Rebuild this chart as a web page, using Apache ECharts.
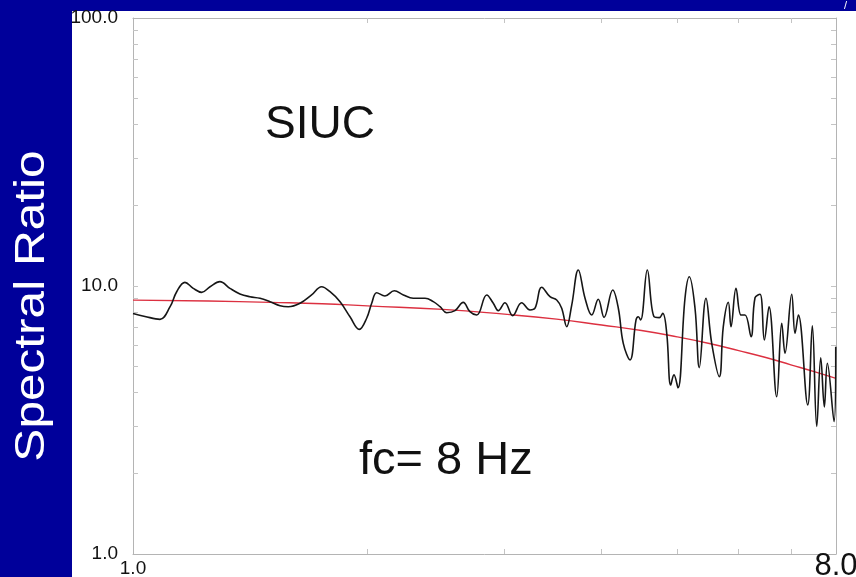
<!DOCTYPE html>
<html>
<head>
<meta charset="utf-8">
<script src="https://cdn.jsdelivr.net/npm/echarts@6/dist/echarts.min.js"></script>
<style>
  html, body { margin: 0; padding: 0; width: 856px; height: 577px; overflow: hidden; background: #00009a; }
  #panel { position: absolute; left: 72px; top: 11px; width: 784px; height: 566px; background: #ffffff; }
  #chart { position: absolute; left: 0; top: 0; width: 856px; height: 577px; }
</style>
</head>
<body>
<div id="panel"></div>
<div id="chart"></div>
<script>
// Observed spectral ratio (black curve)
const freq = [1.000,1.036,1.083,1.116,1.138,1.166,1.195,1.225,1.256,1.293,1.332,1.372,1.413,1.456,1.500,1.545,1.583,1.639,1.696,1.747,1.791,1.845,1.900,1.953,1.996,2.026,2.056,2.107,2.166,2.225,2.291,2.372,2.431,2.480,2.529,2.592,2.656,2.709,2.764,2.847,2.903,2.946,3.005,3.074,3.157,3.236,3.284,3.350,3.433,3.502,3.554,3.607,3.661,3.733,3.808,3.884,3.960,4.028,4.133,4.202,4.264,4.350,4.428,4.458,4.489,4.578,4.670,4.744,4.792,4.849,4.906,4.954,5.013,5.118,5.184,5.272,5.339,5.446,5.539,5.665,5.732,5.818,5.864,5.952,6.041,6.113,6.222,6.296,6.390,6.472,6.562,6.713,6.814,6.880,7.018,7.087,7.157,7.358,7.459,7.557,7.647,7.729,7.798,7.954,7.994];
const ratio = [7.90,7.70,7.51,8.37,9.52,10.32,9.80,9.47,9.94,10.38,9.80,9.34,9.12,9.00,8.74,8.44,8.37,8.62,9.26,9.94,9.52,8.74,7.68,6.89,7.58,8.62,9.44,9.18,9.60,9.26,9.00,9.00,8.74,8.37,7.95,8.09,8.69,8.02,7.79,9.26,8.62,8.09,8.66,7.75,8.66,8.14,8.26,9.89,9.12,8.87,8.26,7.05,8.49,11.47,9.00,7.79,8.92,7.64,9.66,8.26,6.11,5.30,7.47,7.68,7.47,11.47,7.68,7.62,7.91,6.66,4.27,4.66,4.17,9.00,10.83,8.26,4.96,9.00,6.11,4.59,7.05,8.69,7.05,9.80,7.79,7.79,6.47,9.04,9.31,6.29,8.37,3.86,7.26,5.61,9.31,6.66,7.79,3.60,7.11,2.99,5.40,3.54,5.15,3.12,5.94];

// Model fit (red curve)
const fitFreq = [1.0,1.25,1.5,1.75,2.0,2.5,3.0,3.5,4.0,4.5,5.0,5.5,6.0,6.5,7.0,7.5,8.0];
const fitRatio = [8.86,8.79,8.69,8.59,8.43,8.18,7.85,7.52,7.15,6.82,6.46,6.10,5.74,5.41,5.08,4.79,4.52];

// Axis ticks and labels
const xLabelValues = [1, 8];
const xMinorTicks = [2, 3, 4, 5, 6, 7];
const yLabelValues = [1, 10, 100];
const yMinorTicks = [2,3,4,5,6,7,8,9,10,20,30,40,50,60,70,80,90];

const FONT = 'Liberation Sans, Arial, Helvetica, sans-serif';
const chart = echarts.init(document.getElementById('chart'), null, { renderer: 'canvas' });

const axisLineStyle = { color: '#b4b4b4', width: 1 };
const tickStyle = { color: '#c4c4c4', width: 1 };

const option = {
  backgroundColor: 'transparent',
  animation: false,
  grid: { left: 133, top: 18, right: 20, bottom: 23, containLabel: false, outerBoundsMode: 'none' },
  xAxis: [
    {
      type: 'log', logBase: 10, min: 1, max: 8, position: 'bottom',
      axisLine: { show: true, lineStyle: axisLineStyle },
      axisTick: { show: true, inside: true, length: 5, customValues: xMinorTicks, lineStyle: tickStyle },
      axisLabel: {
        show: true, customValues: xLabelValues, margin: 5, color: '#111', fontFamily: FONT, fontSize: 19,
        formatter: v => (Math.abs(v - 8) < 1e-6 ? '{big|' + v.toFixed(1) + '}' : v.toFixed(1)),
        rich: { big: { fontSize: 31, fontFamily: FONT, color: '#111', lineHeight: 14 } }
      },
      splitLine: { show: false }
    },
    {
      type: 'log', logBase: 10, min: 1, max: 8, position: 'top',
      axisLine: { show: true, lineStyle: axisLineStyle },
      axisTick: { show: true, inside: true, length: 5, customValues: xMinorTicks, lineStyle: tickStyle },
      axisLabel: { show: false },
      splitLine: { show: false }
    }
  ],
  yAxis: [
    {
      type: 'log', logBase: 10, min: 1, max: 100, position: 'left',
      axisLine: { show: true, lineStyle: axisLineStyle },
      axisTick: { show: true, inside: true, length: 5, customValues: yMinorTicks, lineStyle: tickStyle },
      axisLabel: {
        show: true, customValues: yLabelValues, margin: 15, color: '#111', fontFamily: FONT, fontSize: 19,
        formatter: v => v.toFixed(1)
      },
      splitLine: { show: false }
    },
    {
      type: 'log', logBase: 10, min: 1, max: 100, position: 'right',
      axisLine: { show: true, lineStyle: axisLineStyle },
      axisTick: { show: true, inside: true, length: 5, customValues: yMinorTicks, lineStyle: tickStyle },
      axisLabel: { show: false },
      splitLine: { show: false }
    }
  ],
  series: [
    {
      type: 'line', name: 'fit', xAxisIndex: 0, yAxisIndex: 0,
      data: fitFreq.map((f, i) => [f, fitRatio[i]]),
      smooth: true, showSymbol: false, symbol: 'none',
      lineStyle: { color: '#dc3040', width: 1.4 }, z: 3
    },
    {
      type: 'line', name: 'ratio', xAxisIndex: 0, yAxisIndex: 0,
      data: freq.map((f, i) => [f, ratio[i]]),
      smooth: 0.4, showSymbol: false, symbol: 'none',
      lineStyle: { color: '#161616', width: 1.6 }, z: 4
    }
  ],
  graphic: [
    {
      type: 'text', x: 265, y: 125,
      style: { text: 'SIUC', fontSize: 46, fontFamily: FONT, fill: '#111', align: 'left', verticalAlign: 'middle' }
    },
    {
      type: 'text', x: 359, y: 461,
      style: { text: 'fc= 8 Hz', fontSize: 47, fontFamily: FONT, fill: '#111', align: 'left', verticalAlign: 'middle' }
    },
    {
      type: 'text', x: 32, y: 306, rotation: Math.PI / 2, scaleX: 1.18,
      style: { text: 'Spectral Ratio', fontSize: 42, fontFamily: FONT, fill: '#ffffff', align: 'center', verticalAlign: 'middle' }
    },
    {
      type: 'text', x: 844, y: 0,
      style: { text: '/', fontSize: 11, fontFamily: FONT, fill: '#ffffff', align: 'left', verticalAlign: 'top' }
    }
  ]
};
chart.setOption(option);
</script>
</body>
</html>
